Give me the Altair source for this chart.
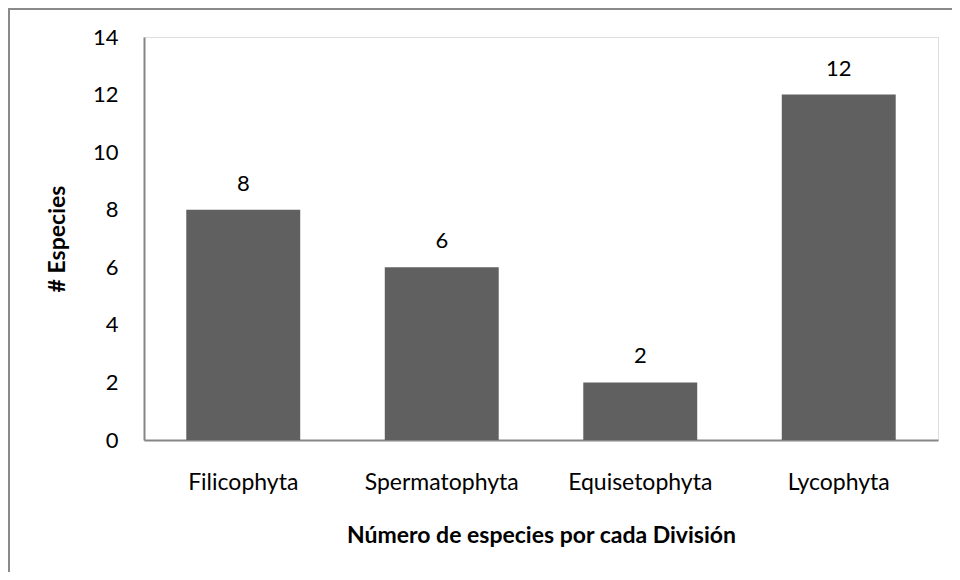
import altair as alt
import pandas as pd

divisiones = ["Filicophyta", "Spermatophyta", "Equisetophyta", "Lycophyta"]
especies = [8, 6, 2, 12]

df = pd.DataFrame({"division": divisiones, "especies": especies})

FONT = "Lato"
W, H = 794, 403
PL, PT, PR, PB = 136, 29, 14, 132

x = alt.X("division:N", sort=divisiones,
          scale=alt.Scale(paddingInner=0.426, paddingOuter=0.213),
          axis=alt.Axis(title="Número de especies por cada División", labelAngle=0,
                        labelFontSize=23, labelFont=FONT, labelColor="#000000",
                        labelBaseline="alphabetic", labelPadding=49, ticks=False,
                        titleFont=FONT, titleFontSize=23, titleFontWeight="bold",
                        titleColor="#000000", titleBaseline="alphabetic",
                        titleX=W / 2, titleY=102, titleAlign="center",
                        domainColor="#868686", domainWidth=2, grid=False))
y = alt.Y("especies:Q", scale=alt.Scale(domain=[0, 14]),
          axis=alt.Axis(title="# Especies", values=[0, 2, 4, 6, 8, 10, 12, 14],
                        labelFontSize=22, labelFont=FONT, labelColor="#000000",
                        labelPadding=26, ticks=False,
                        titleFont=FONT, titleFontSize=23, titleFontWeight="bold",
                        titleColor="#000000", titleBaseline="alphabetic",
                        titleAngle=270, titleX=-80, titleY=H / 2, titleAlign="center",
                        domainColor="#868686", domainWidth=2, grid=False))

bars = alt.Chart(df).mark_bar(color="#606060").encode(x=x, y=y)
labels = alt.Chart(df).mark_text(font=FONT, fontSize=22, color="#000000",
                                 baseline="alphabetic", dy=-19).encode(
    x=alt.X("division:N", sort=divisiones), y="especies:Q", text="especies:Q")

top_line = alt.Chart(df).mark_rule(stroke="#8a8a8a", strokeWidth=2).encode(
    x=alt.value(-PL), x2=alt.value(W + PR), y=alt.value(-PT + 1))
left_line = alt.Chart(df).mark_rule(stroke="#8a8a8a", strokeWidth=2).encode(
    x=alt.value(-PL + 1), y=alt.value(-PT), y2=alt.value(H + PB))

chart = alt.layer(top_line, left_line, bars, labels).properties(
    width=W, height=H,
    autosize=alt.AutoSizeParams(type="none"),
    padding={"left": PL, "top": PT, "right": PR, "bottom": PB},
).configure_view(stroke=None).configure(background="#ffffff")

chart.save("out.html", embed_options={"renderer": "svg", "actions": False})
